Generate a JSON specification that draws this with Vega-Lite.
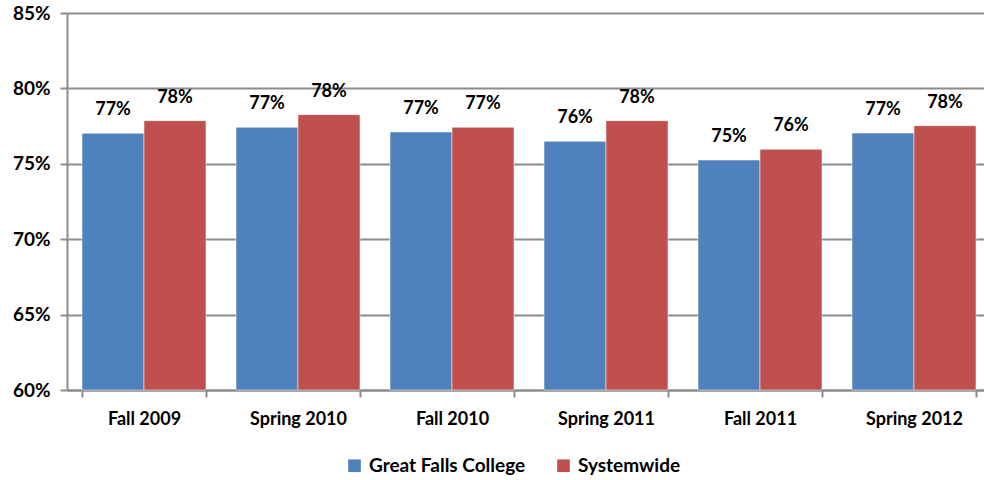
{
  "$schema": "https://vega.github.io/schema/vega-lite/v6.json",
  "width": 917,
  "height": 377,
  "autosize": {"type": "none"},
  "padding": {"left": 67, "top": 13, "right": 0, "bottom": 90},
  "background": "white",
  "config": {
    "font": "Lato",
    "view": {"stroke": null},
    "axis": {"labelFont": "Lato", "labelFontWeight": "bold", "labelColor": "black"}
  },
  "data": {
    "values": [
      {"term": "Fall 2009", "series": "Great Falls College", "rate": 0.7702},
      {"term": "Fall 2009", "series": "Systemwide", "rate": 0.7786},
      {"term": "Spring 2010", "series": "Great Falls College", "rate": 0.7742},
      {"term": "Spring 2010", "series": "Systemwide", "rate": 0.7826},
      {"term": "Fall 2010", "series": "Great Falls College", "rate": 0.7711},
      {"term": "Fall 2010", "series": "Systemwide", "rate": 0.7742},
      {"term": "Spring 2011", "series": "Great Falls College", "rate": 0.7649},
      {"term": "Spring 2011", "series": "Systemwide", "rate": 0.7786},
      {"term": "Fall 2011", "series": "Great Falls College", "rate": 0.7525},
      {"term": "Fall 2011", "series": "Systemwide", "rate": 0.7596},
      {"term": "Spring 2012", "series": "Great Falls College", "rate": 0.7704},
      {"term": "Spring 2012", "series": "Systemwide", "rate": 0.7753}
    ]
  },
  "encoding": {
    "x": {
      "field": "term", "type": "nominal", "sort": null,
      "scale": {"paddingInner": 0.195, "paddingOuter": 0.0975, "range": [0, 924]},
      "axis": {
        "title": null, "labelAngle": 0, "labelFontSize": 18, "labelPadding": 13,
        "domainColor": "#8c8c8c", "domainWidth": 2, "tickColor": "#8c8c8c", "tickWidth": 2,
        "tickSize": 7, "tickBand": "extent", "grid": false
      }
    },
    "xOffset": {"field": "series", "type": "nominal"},
    "y": {
      "field": "rate", "type": "quantitative",
      "scale": {"domain": [0.6, 0.85], "zero": false, "nice": false},
      "axis": {
        "title": null, "format": ".0%", "values": [0.6, 0.65, 0.7, 0.75, 0.8, 0.85],
        "labelFontSize": 19, "labelPadding": 10,
        "domainColor": "#8c8c8c", "domainWidth": 2, "tickColor": "#8c8c8c", "tickWidth": 2, "tickSize": 7,
        "gridColor": "#8c8c8c", "gridWidth": 2
      }
    }
  },
  "layer": [
    {
      "mark": {"type": "bar", "stroke": "white", "strokeOpacity": 0.5, "strokeWidth": 1},
      "encoding": {
        "y2": {"datum": 0.6},
        "color": {
          "field": "series", "type": "nominal",
          "scale": {"domain": ["Great Falls College", "Systemwide"], "range": ["#4F81BD", "#C0504D"]},
          "legend": {
            "title": null, "orient": "none", "direction": "horizontal",
            "legendX": 278, "legendY": 443,
            "symbolType": "square", "symbolSize": 160, "symbolStrokeWidth": 0,
            "labelFontSize": 19, "labelFontWeight": "bold", "labelFont": "Lato", "labelColor": "black",
            "columnPadding": 28, "labelOffset": 5
          }
        }
      }
    },
    {
      "mark": {"type": "text", "baseline": "middle", "dy": -23, "fontSize": 18, "fontWeight": "bold", "font": "Lato", "color": "black"},
      "encoding": {
        "text": {"field": "rate", "type": "quantitative", "format": ".0%"}
      }
    }
  ]
}
